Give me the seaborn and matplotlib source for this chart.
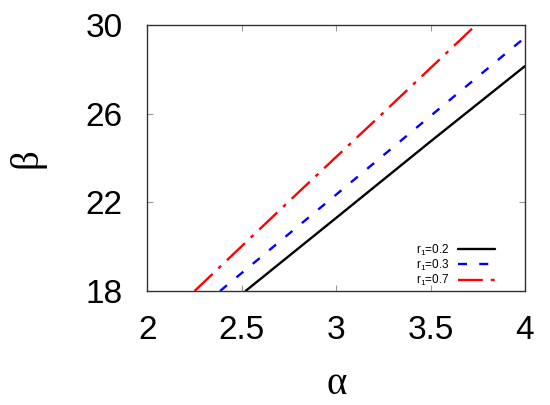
import numpy as np
import pandas as pd
import matplotlib
matplotlib.use("Agg")
import matplotlib.pyplot as plt
import seaborn as sns

# curves
alpha_r02 = [2.52, 3.0, 3.5, 4.0]
beta_r02 = [18.0, 21.3, 24.75, 28.15]

alpha_r03 = [2.385, 3.0, 3.5, 4.0]
beta_r03 = [18.0, 22.35, 25.9, 29.44]

alpha_r07 = [2.25, 2.75, 3.25, 3.74]
beta_r07 = [18.0, 22.05, 26.05, 30.0]

labels = [r"r$\mathregular{_1}$=0.2", r"r$\mathregular{_1}$=0.3", r"r$\mathregular{_1}$=0.7"]
colors = ["black", "#0000ff", "#ff0000"]
styles = ["-", (0, (3.8, 5.2)), (0, (10.5, 3.4, 1.6, 3.4))]

xticks = [2, 2.5, 3, 3.5, 4]
yticks = [18, 22, 26, 30]

sns.set_theme(style="ticks")
plt.rcParams["font.family"] = ["Liberation Sans", "DejaVu Sans"]
plt.rcParams["mathtext.fontset"] = "custom"
plt.rcParams["mathtext.rm"] = "Liberation Sans"
plt.rcParams["text.color"] = "black"
plt.rcParams["axes.labelcolor"] = "black"

fig = plt.figure(figsize=(5.5, 4.05), dpi=100)
ax = fig.add_axes([0.268, 0.2815, 0.6865, 0.6565])

series = [(alpha_r02, beta_r02), (alpha_r03, beta_r03), (alpha_r07, beta_r07)]
for (xs, ys), lab, col, ls in zip(series, labels, colors, styles):
    df = pd.DataFrame({"alpha": xs, "beta": ys})
    sns.lineplot(data=df, x="alpha", y="beta", color=col, linestyle=ls,
                 linewidth=1.7, label=lab, ax=ax)

ax.set_xlim(2, 4)
ax.set_ylim(18, 30)
ax.set_xticks(xticks)
ax.set_xticklabels(["2", "2.5", "3", "3.5", "4"])
ax.set_yticks(yticks)

ax.tick_params(axis="both", direction="in", length=4, width=0.8, color="#999999",
               labelcolor="black", labelsize=24, top=True, right=True)
ax.tick_params(axis="x", pad=17)
ax.tick_params(axis="y", pad=18)
for sp in ax.spines.values():
    sp.set_color("#333333")
    sp.set_linewidth(1.0)

ax.set_xlabel("α", fontsize=28, family=["Liberation Serif", "DejaVu Serif"], va="center")
ax.set_ylabel("β", fontsize=28, family=["Liberation Serif", "DejaVu Serif"], va="center")
ax.xaxis.set_label_coords(0.5, -0.353)
ax.yaxis.set_label_coords(-0.32, 0.5)

leg = ax.legend(loc="lower right", bbox_to_anchor=(0.92, 0.012), frameon=False,
                markerfirst=False, fontsize=8.5, handlelength=3.1, handletextpad=0.75,
                labelspacing=0.0, borderpad=0, borderaxespad=0)
for t in leg.get_texts():
    t.set_color("black")

fig.savefig("out.png", dpi=100)
